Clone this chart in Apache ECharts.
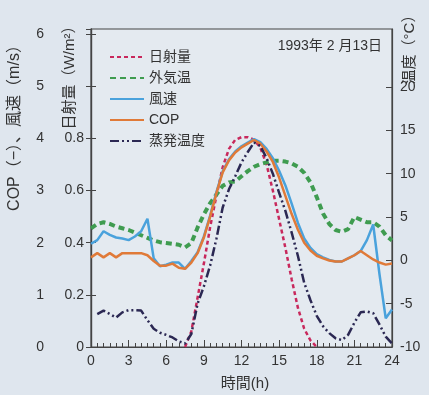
<!DOCTYPE html>
<html>
<head>
<meta charset="utf-8">
<script src="https://cdn.jsdelivr.net/npm/echarts@6/dist/echarts.min.js"></script>
<style>
	html, body { margin: 0; padding: 0; background: #dfe6ee; }
	#chart { width: 429px; height: 395px; }
</style>
</head>
<body>
<div id="chart"></div>
<script>
	/* 時刻（0.5時間刻み） */
	var hours = [0, 0.5, 1, 1.5, 2, 2.5, 3, 3.5, 4, 4.5, 5, 5.5, 6, 6.5, 7, 7.5, 8, 8.5, 9, 9.5,
		10, 10.5, 11, 11.5, 12, 12.5, 13, 13.5, 14, 14.5, 15, 15.5, 16, 16.5, 17, 17.5, 18, 18.5, 19, 19.5,
		20, 20.5, 21, 21.5, 22, 22.5, 23, 23.5, 24];

	/* 日射量 (W/m²) */
	var solar = [null, null, null, null, null, null, null, null, null, null, null, null, null, null, null, 0, 0.06, 0.19, 0.32, 0.46,
		0.58, 0.69, 0.76, 0.795, 0.805, 0.805, 0.795, 0.765, 0.70, 0.60, 0.49, 0.38, 0.26, 0.15, 0.07, 0.025, 0, null, null, null,
		null, null, null, null, null, null, null, null, null];

	/* 外気温 (°C) */
	var outdoorTemp = [3.7, 4.2, 4.4, 4.2, 3.9, 3.7, 3.5, 3.2, 2.9, 2.6, 2.3, 2.1, 2.0, 1.9, 1.8, 1.5, 2.0, 3.8, 5.3, 6.6,
		7.6, 8.6, 9.0, 9.1, 9.7, 10.3, 10.8, 11.1, 11.3, 11.5, 11.5, 11.4, 11.2, 10.8, 10.1, 9.0, 7.3, 5.4, 4.2, 3.5,
		3.3, 3.6, 5.0, 4.7, 4.4, 4.4, 3.9, 2.9, 2.3];

	/* 風速 (m/s) */
	var windSpeed = [1.98, 2.05, 2.22, 2.15, 2.10, 2.08, 2.05, 2.12, 2.22, 2.46, 1.70, 1.55, 1.58, 1.62, 1.62, 1.50, 1.65, 1.82, 2.12, 2.52,
		2.97, 3.37, 3.60, 3.75, 3.85, 3.92, 3.99, 3.93, 3.80, 3.62, 3.38, 3.10, 2.75, 2.38, 2.08, 1.90, 1.78, 1.72, 1.67, 1.64,
		1.64, 1.70, 1.76, 1.84, 2.05, 2.35, 1.40, 0.55, 0.72];

	/* COP (-) */
	var cop = [1.72, 1.80, 1.72, 1.80, 1.72, 1.80, 1.80, 1.80, 1.80, 1.76, 1.65, 1.56, 1.56, 1.60, 1.52, 1.50, 1.62, 1.80, 2.10, 2.50,
		2.95, 3.35, 3.58, 3.73, 3.83, 3.90, 3.97, 3.90, 3.75, 3.55, 3.25, 2.90, 2.55, 2.25, 2.00, 1.85, 1.75, 1.70, 1.66, 1.64,
		1.64, 1.70, 1.76, 1.84, 1.76, 1.68, 1.62, 1.58, 1.60];

	/* 蒸発温度 (°C) */
	var evapTemp = [null, -6.2, -5.8, -6.2, -6.6, -6.0, -5.75, -5.75, -5.8, -6.9, -7.9, -8.35, -8.6, -8.9, -9.35, -9.6, -8.5, -5.0, -3.0, -0.6,
		2.5, 6.1, 8.2, 9.7, 11.3, 12.5, 13.6, 13.2, 11.8, 10.0, 7.8, 5.7, 3.2, 0.5, -2.6, -4.6, -6.4, -7.6, -8.4, -9.0,
		-9.2, -8.6, -7.2, -6.0, -5.9, -6.1, -7.4, -8.8, -9.6];

	/* 凡例の名前 */
	var seriesNames = ["日射量", "外気温", "風速", "COP", "蒸発温度"];

	var FONT = "'Liberation Sans', 'Noto Sans CJK JP', sans-serif";
	var AXIS_COLOR = "#444";
	var TEXT_COLOR = "#333";

	/**
	 * [時刻, 値] の配列を作る。
	 */
	function pairs(xs, ys)
	{
		var re = [];

		for(var i=0; i<xs.length; i++)
			re.push([xs[i], ys[i]]);

		return re;
	}

	function lineSeries(name, yAxisIndex, values, color, width, type)
	{
		return {
			name: name,
			type: "line",
			yAxisIndex: yAxisIndex,
			data: pairs(hours, values),
			showSymbol: false,
			symbol: "none",
			connectNulls: false,
			color: color,
			lineStyle: { color: color, width: width, type: type },
			silent: true,
			animation: false
		};
	}

	var chart = echarts.init(document.getElementById("chart"), null, { renderer: "canvas" });

	var option =
	{
		backgroundColor: "#dfe6ee",
		animation: false,
		textStyle: { fontFamily: FONT },
		grid:
		{
			left: 91, right: 37, top: 29, bottom: 48,
			show: true,
			backgroundColor: "#e4eaf0",
			borderColor: AXIS_COLOR,
			borderWidth: 1.2
		},
		title:
		{
			text: "1993年 2 月13日",
			right: 42,
			top: 34,
			textStyle: { fontFamily: FONT, fontSize: 14, fontWeight: "normal", color: TEXT_COLOR }
		},
		legend:
		{
			data: seriesNames,
			orient: "vertical",
			left: 104,
			top: 45,
			itemWidth: 34,
			itemHeight: 12,
			itemGap: 7,
			itemStyle: { opacity: 0 },
			textStyle: { fontFamily: FONT, fontSize: 14, color: TEXT_COLOR },
			selectedMode: false
		},
		xAxis:
		{
			type: "value",
			min: 0,
			max: 24,
			interval: 3,
			axisLine: { show: true, lineStyle: { color: AXIS_COLOR, width: 1.2 } },
			axisTick: { show: true, inside: true, length: 7, lineStyle: { color: AXIS_COLOR } },
			minorTick: { show: true, splitNumber: 6, length: 4, lineStyle: { color: AXIS_COLOR } },
			splitLine: { show: false },
			axisLabel: { fontSize: 14, color: TEXT_COLOR, margin: 7, fontFamily: FONT }
		},
		yAxis:
		[
			{
				/* COP, 風速 */
				type: "value",
				position: "left",
				offset: 39,
				min: 0,
				max: 6.1,
				interval: 1,
				axisLine: { show: true, lineStyle: { color: AXIS_COLOR, width: 1.2 } },
				axisTick: { show: true, inside: true, length: 5, lineStyle: { color: AXIS_COLOR } },
				splitLine: { show: false },
				axisLabel: { fontSize: 14, color: TEXT_COLOR, margin: 8, fontFamily: FONT }
			},
			{
				/* 日射量 */
				type: "value",
				position: "left",
				offset: 0,
				min: 0,
				max: 1.22,
				interval: 0.2,
				axisLine: { show: true, lineStyle: { color: AXIS_COLOR, width: 1.2 } },
				axisTick: { show: true, inside: false, length: 5, lineStyle: { color: AXIS_COLOR } },
				splitLine: { show: false },
				axisLabel:
				{
					fontSize: 14, color: TEXT_COLOR, margin: 7, fontFamily: FONT,
					formatter: function(v)
					{
						if(v > 0.85)
							return "";
						return (v === 0 ? "0" : v.toFixed(1));
					}
				}
			},
			{
				/* 温度 */
				type: "value",
				position: "right",
				offset: 0,
				min: -10,
				max: 26.7,
				interval: 5,
				axisLine: { show: true, lineStyle: { color: AXIS_COLOR, width: 1.2 } },
				axisTick:
				{
					show: true, inside: true, length: 6, lineStyle: { color: AXIS_COLOR },
					customValues: [-10, -5, 0, 5, 10, 15, 20]
				},
				splitLine: { show: false },
				axisLabel:
				{
					fontSize: 14, color: TEXT_COLOR, margin: 8, fontFamily: FONT,
					customValues: [-10, -5, 0, 5, 10, 15, 20],
					formatter: function(v)
					{
						return (v > 20 ? "" : String(v));
					}
				}
			}
		],
		graphic:
		[
			{
				type: "text",
				x: 15, y: 124,
				rotation: Math.PI / 2,
				style: { text: "COP（−）、風速（m/s）", font: "16px " + FONT, fill: TEXT_COLOR, align: "center", verticalAlign: "middle" }
			},
			{
				type: "text",
				x: 70, y: 74,
				rotation: Math.PI / 2,
				style: { text: "日射量（W/m²）", font: "15px " + FONT, fill: TEXT_COLOR, align: "center", verticalAlign: "middle" }
			},
			{
				type: "text",
				x: 410, y: 46,
				rotation: Math.PI / 2,
				style: { text: "温度（°C）", font: "15px " + FONT, fill: TEXT_COLOR, align: "center", verticalAlign: "middle" }
			},
			{
				type: "text",
				x: 245, y: 384,
				style: { text: "時間(h)", font: "15px " + FONT, fill: TEXT_COLOR, align: "center", verticalAlign: "middle" }
			}
		],
		series:
		[
			lineSeries(seriesNames[0], 1, solar, "#c8285c", 2.5, [4, 3]),
			lineSeries(seriesNames[1], 2, outdoorTemp, "#3f9c50", 4, [6, 4]),
			lineSeries(seriesNames[2], 0, windSpeed, "#4aa2dc", 2.5, "solid"),
			lineSeries(seriesNames[3], 0, cop, "#e07a38", 2.5, "solid"),
			lineSeries(seriesNames[4], 2, evapTemp, "#2b2853", 2.5, [9, 3, 2, 3, 2, 3])
		]
	};

	chart.setOption(option);
</script>
</body>
</html>
